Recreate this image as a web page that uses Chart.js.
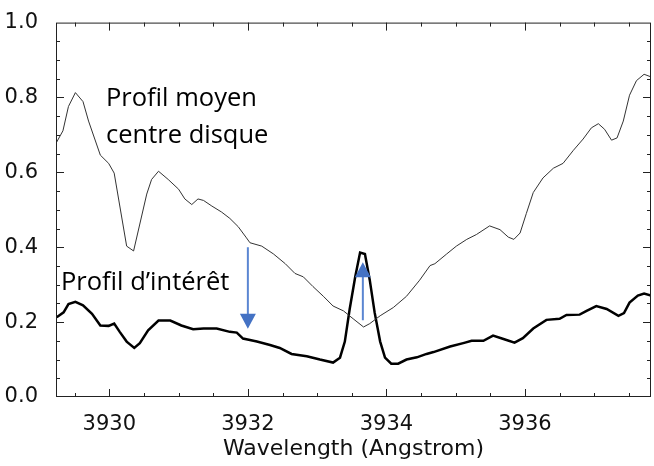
<!DOCTYPE html>
<html>
<head>
<meta charset="utf-8">
<script src="https://cdn.jsdelivr.net/npm/chart.js@4"></script>
<style>
  html, body { margin: 0; padding: 0; background: #fff; }
  #wrap { width: 654px; height: 466px; }
</style>
</head>
<body>
<div id="wrap"><canvas id="lineChart"></canvas></div>
<script>
// wavelengths (Angstrom) and intensities
let MEAN_WL = [3929.24, 3929.33, 3929.41, 3929.51, 3929.62, 3929.70, 3929.87, 3929.99, 3930.07, 3930.25,
    3930.35, 3930.54, 3930.61, 3930.71, 3930.85, 3931.00, 3931.09, 3931.19, 3931.28, 3931.36,
    3931.48, 3931.62, 3931.74, 3931.86, 3931.98, 3932.03, 3932.20, 3932.37, 3932.54, 3932.68,
    3932.80, 3932.94, 3933.09, 3933.23, 3933.38, 3933.52, 3933.67, 3933.76, 3933.91, 3934.10,
    3934.29, 3934.48, 3934.63, 3934.70, 3934.87, 3935.01, 3935.16, 3935.30, 3935.49, 3935.64,
    3935.76, 3935.84, 3935.93, 3936.02, 3936.12, 3936.26, 3936.41, 3936.55, 3936.70, 3936.84,
    3936.96, 3937.06, 3937.15, 3937.25, 3937.33, 3937.42, 3937.51, 3937.61, 3937.72, 3937.82]
let MEAN_VAL = [0.681, 0.711, 0.776, 0.813, 0.789, 0.737, 0.646, 0.624, 0.598, 0.403,
    0.390, 0.542, 0.581, 0.603, 0.581, 0.555, 0.529, 0.514, 0.529, 0.525,
    0.510, 0.494, 0.477, 0.455, 0.425, 0.412, 0.403, 0.382, 0.356, 0.330,
    0.321, 0.295, 0.269, 0.243, 0.230, 0.209, 0.187, 0.196, 0.217, 0.239,
    0.269, 0.312, 0.351, 0.356, 0.382, 0.403, 0.421, 0.434, 0.457, 0.447,
    0.427, 0.421, 0.438, 0.490, 0.546, 0.585, 0.611, 0.624, 0.659, 0.689,
    0.719, 0.730, 0.715, 0.686, 0.692, 0.737, 0.806, 0.845, 0.862, 0.855]

let INT_WL = [3929.24, 3929.34, 3929.41, 3929.51, 3929.62, 3929.75, 3929.87, 3929.99, 3930.07, 3930.15,
    3930.25, 3930.36, 3930.44, 3930.56, 3930.71, 3930.88, 3931.04, 3931.21, 3931.36, 3931.55,
    3931.74, 3931.84, 3931.93, 3932.03, 3932.13, 3932.32, 3932.46, 3932.63, 3932.85, 3933.04,
    3933.23, 3933.33, 3933.40, 3933.47, 3933.55, 3933.62, 3933.69, 3933.76, 3933.83, 3933.91,
    3933.98, 3934.07, 3934.17, 3934.29, 3934.44, 3934.58, 3934.68, 3934.92, 3935.11, 3935.23,
    3935.40, 3935.54, 3935.69, 3935.85, 3935.97, 3936.12, 3936.31, 3936.50, 3936.60, 3936.79,
    3936.89, 3937.03, 3937.18, 3937.35, 3937.43, 3937.51, 3937.63, 3937.72, 3937.82]
let INT_VAL = [0.213, 0.226, 0.248, 0.254, 0.245, 0.222, 0.191, 0.190, 0.196, 0.174,
    0.148, 0.131, 0.144, 0.178, 0.204, 0.204, 0.191, 0.181, 0.183, 0.183,
    0.174, 0.172, 0.156, 0.152, 0.148, 0.139, 0.131, 0.115, 0.109, 0.100,
    0.092, 0.105, 0.148, 0.235, 0.321, 0.386, 0.382, 0.312, 0.226, 0.148,
    0.105, 0.089, 0.089, 0.100, 0.106, 0.115, 0.120, 0.135, 0.144, 0.150,
    0.150, 0.164, 0.155, 0.145, 0.157, 0.183, 0.206, 0.209, 0.219, 0.220,
    0.230, 0.243, 0.235, 0.217, 0.224, 0.252, 0.271, 0.276, 0.271]

let X_TICKS = [3930, 3932, 3934, 3936]
let Y_TICKS = [0.0, 0.2, 0.4, 0.6, 0.8, 1.0]

let CHART = document.getElementById("lineChart");

function pts(xs, ys) {
    return xs.map(function (x, i) { return { x: x, y: ys[i] } })
}

// IDL style frame with inward ticks, plus the blue arrows and the labels
let framePlugin = {
    id: 'frame',
    afterDatasetsDraw: function (chart) {
        let ctx = chart.ctx
        let a = chart.chartArea
        let xs = chart.scales.x
        let ys = chart.scales.y
        ctx.save()
        ctx.strokeStyle = '#222'
        ctx.lineWidth = 1
        ctx.strokeRect(a.left + 0.5, a.top + 0.5, a.right - a.left - 1, a.bottom - a.top - 1)
        ctx.beginPath()
        for (let v = 3929.5; v < 3938; v += 0.5) {
            let px = Math.round(xs.getPixelForValue(v)) + 0.5
            let len = (v % 2 === 0) ? 8 : 4
            ctx.moveTo(px, a.bottom); ctx.lineTo(px, a.bottom - len)
            ctx.moveTo(px, a.top); ctx.lineTo(px, a.top + len)
        }
        for (let k = 1; k < 20; k++) {
            let v = k * 0.05
            let py = Math.round(ys.getPixelForValue(v)) + 0.5
            let len = (k % 4 === 0) ? 8 : 4
            ctx.moveTo(a.left, py); ctx.lineTo(a.left + len, py)
            ctx.moveTo(a.right, py); ctx.lineTo(a.right - len, py)
        }
        ctx.stroke()

        // arrows
        function arrow(x, y0, y1) {
            let px = xs.getPixelForValue(x)
            let p0 = ys.getPixelForValue(y0)
            let p1 = ys.getPixelForValue(y1)
            let dir = p1 > p0 ? 1 : -1
            ctx.strokeStyle = '#5b86d2'
            ctx.lineWidth = 2
            ctx.beginPath()
            ctx.moveTo(px, p0)
            ctx.lineTo(px, p1 - dir * 14)
            ctx.stroke()
            ctx.fillStyle = '#4472C4'
            ctx.beginPath()
            ctx.moveTo(px, p1)
            ctx.lineTo(px - 8, p1 - dir * 15)
            ctx.lineTo(px + 8, p1 - dir * 15)
            ctx.closePath()
            ctx.fill()
        }
        arrow(3932.0, 0.40, 0.182)
        arrow(3933.66, 0.205, 0.36)

        ctx.fillStyle = '#000'
        ctx.font = '25.5px "Open Sans"'
        ctx.textBaseline = 'middle'
        ctx.textAlign = 'left'
        ctx.fillText('Profil moyen', 106, 99)
        ctx.fillText('centre disque', 106, 136)
        ctx.fillText('Profil d\u2019intérêt', 61, 283)
        ctx.restore()
    }
}

let data = {
    type: 'line',
    data: {
        datasets: [
            {
                label: 'Profil moyen centre disque',
                data: pts(MEAN_WL, MEAN_VAL),
                borderColor: '#333',
                borderWidth: 1,
                pointRadius: 0,
                tension: 0
            },
            {
                label: 'Profil d\u2019intérêt',
                data: pts(INT_WL, INT_VAL),
                borderColor: '#000',
                borderWidth: 2.5,
                pointRadius: 0,
                tension: 0
            }
        ]
    },
    plugins: [framePlugin],
    options: {
        responsive: true,
        maintainAspectRatio: false,
        animation: false,
        layout: { padding: { top: 12, right: 3, left: 0, bottom: 0 } },
        plugins: {
            legend: { display: false },
            tooltip: { enabled: false }
        },
        scales: {
            x: {
                type: 'linear',
                min: 3929.23,
                max: 3937.82,
                afterBuildTicks: function (s) { s.ticks = X_TICKS.map(function (v) { return { value: v } }) },
                afterFit: function (s) { s.height = 69 },
                grid: { display: false },
                border: { display: false },
                ticks: {
                    color: '#111',
                    font: { family: 'DejaVu Sans', size: 21 },
                    padding: 7,
                    maxRotation: 0,
                    callback: function (v) { return String(v) }
                },
                title: {
                    display: true,
                    text: 'Wavelength (Angstrom)',
                    color: '#111',
                    font: { family: 'DejaVu Sans', size: 22 },
                    padding: { top: 0, bottom: 4 }
                }
            },
            y: {
                min: 0,
                max: 1.0,
                afterBuildTicks: function (s) { s.ticks = Y_TICKS.map(function (v) { return { value: v } }) },
                afterFit: function (s) { s.width = 56 },
                grid: { display: false },
                border: { display: false },
                ticks: {
                    color: '#111',
                    font: { family: 'DejaVu Sans', size: 21 },
                    padding: 10,
                    callback: function (v) { return v.toFixed(1) }
                }
            }
        }
    }
}

new Chart(CHART, data)
</script>
</body>
</html>
